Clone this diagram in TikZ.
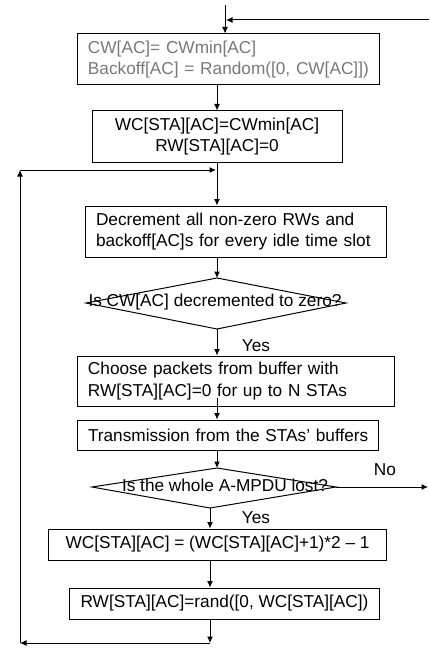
\documentclass[tikz,border=0pt]{standalone}
\usepackage{fontspec}
\setmainfont{Liberation Sans}
\usetikzlibrary{arrows.meta}
\definecolor{greytext}{RGB}{120,120,120}
\begin{document}
\begin{tikzpicture}[x=1bp,y=-1bp, line width=1bp,
  >={Latex[length=6.5bp,width=6bp]},
  txt/.style={font=\fontsize{17.3}{21.5}\selectfont},
  box/.style={txt, draw, rectangle, inner ysep=0pt},
  lbox/.style={box, inner xsep=10bp, align=left},
  cbox/.style={box, inner xsep=2bp, align=center},
  lbl/.style={txt, inner sep=0pt}]
\useasboundingbox (0,0) rectangle (429,652);

% boxes
\node[lbox, text=greytext, text width=281bp, minimum height=51bp] (b1) at (228.5,59.5)
  {CW[AC]= CWmin[AC]\\\mbox{Backoff[AC] = Random([0, CW[AC]])}};
\node[cbox, minimum width=250bp, minimum height=51bp] (b2) at (217,136.5)
  {WC[STA][AC]=CWmin[AC]\\RW[STA][AC]=0};
\node[lbox, text width=280bp, minimum height=51bp] (b3) at (236,231.5)
  {\mbox{Decrement all non-zero RWs and}\\\mbox{backoff[AC]s for every idle time slot}};
\node[lbox, text width=296bp, minimum height=50bp] (b4) at (236,381)
  {\mbox{Choose packets from buffer with}\\\mbox{RW[STA][AC]=0 for up to N STAs}};
\node[lbox, text width=280bp, minimum height=30bp] (b5) at (228,435)
  {\mbox{Transmission from the STAs' buffers}};
\node[cbox, minimum width=337bp, minimum height=31bp] (b6) at (217.5,544.5)
  {WC[STA][AC] = (WC[STA][AC]+1)*2 \textendash\ 1};
\node[cbox, minimum width=309bp, minimum height=31bp] (b7) at (224.5,603.5)
  {RW[STA][AC]=rand([0, WC[STA][AC])};

% decisions
\coordinate (d1t) at (217,278);
\coordinate (d1r) at (346,303);
\coordinate (d1b) at (217,329);
\coordinate (d1l) at (86,303);
\draw (d1t) -- (d1r) -- (d1b) -- (d1l) -- cycle;
\node[lbl] (q1) at (215,302) {Is CW[AC] decremented to zero?};

\coordinate (d2t) at (217,468);
\coordinate (d2r) at (336,487);
\coordinate (d2b) at (210,508);
\coordinate (d2l) at (92,487);
\draw (d2t) -- (d2r) -- (d2b) -- (d2l) -- cycle;
\node[lbl] (q2) at (225,485) {Is the whole A-MPDU lost?};

% labels
\node[lbl] (y1) at (256,346) {Yes};
\node[lbl] (y2) at (256,518) {Yes};
\node[lbl] (no) at (385,470) {No};

% connectors
\coordinate (top) at (225,5);
\draw[->] (top) -- (top |- b1.north);
\coordinate (fb) at (429,20);
\coordinate (fbe) at (226,20);
\draw[->] (fb) -- (fbe);
\draw[->] (b1.south -| b2.north) -- (b2.north);
\draw[->] (b2.south) -- (b3.north -| b2.south);
\draw[->] (b3.south -| d1t) -- (d1t);
\draw[->] (d1b) -- (b4.north -| d1b);
\coordinate (c45) at (217,398);
\draw[->] (c45) -- (b5.north -| c45);
\draw[->] (b5.south -| d2t) -- (d2t);
\coordinate (noend) at (428,487);
\draw[->] (d2r) -- (noend);
\draw[->] (d2b) -- (b6.north -| d2b);
\draw[->] (b6.south -| d2b) -- (b7.north -| d2b);
\coordinate (lb) at (210,643);
\coordinate (ll) at (20,643);
\coordinate (lt) at (20,170);
\coordinate (lj) at (216,170);
\draw[->] (b7.south -| lb) -- (lb);
\draw[->] (lb) -- (ll);
\draw[->] (ll) -- (lt);
\draw[->] (lt) -- (lj);
\end{tikzpicture}
\end{document}
